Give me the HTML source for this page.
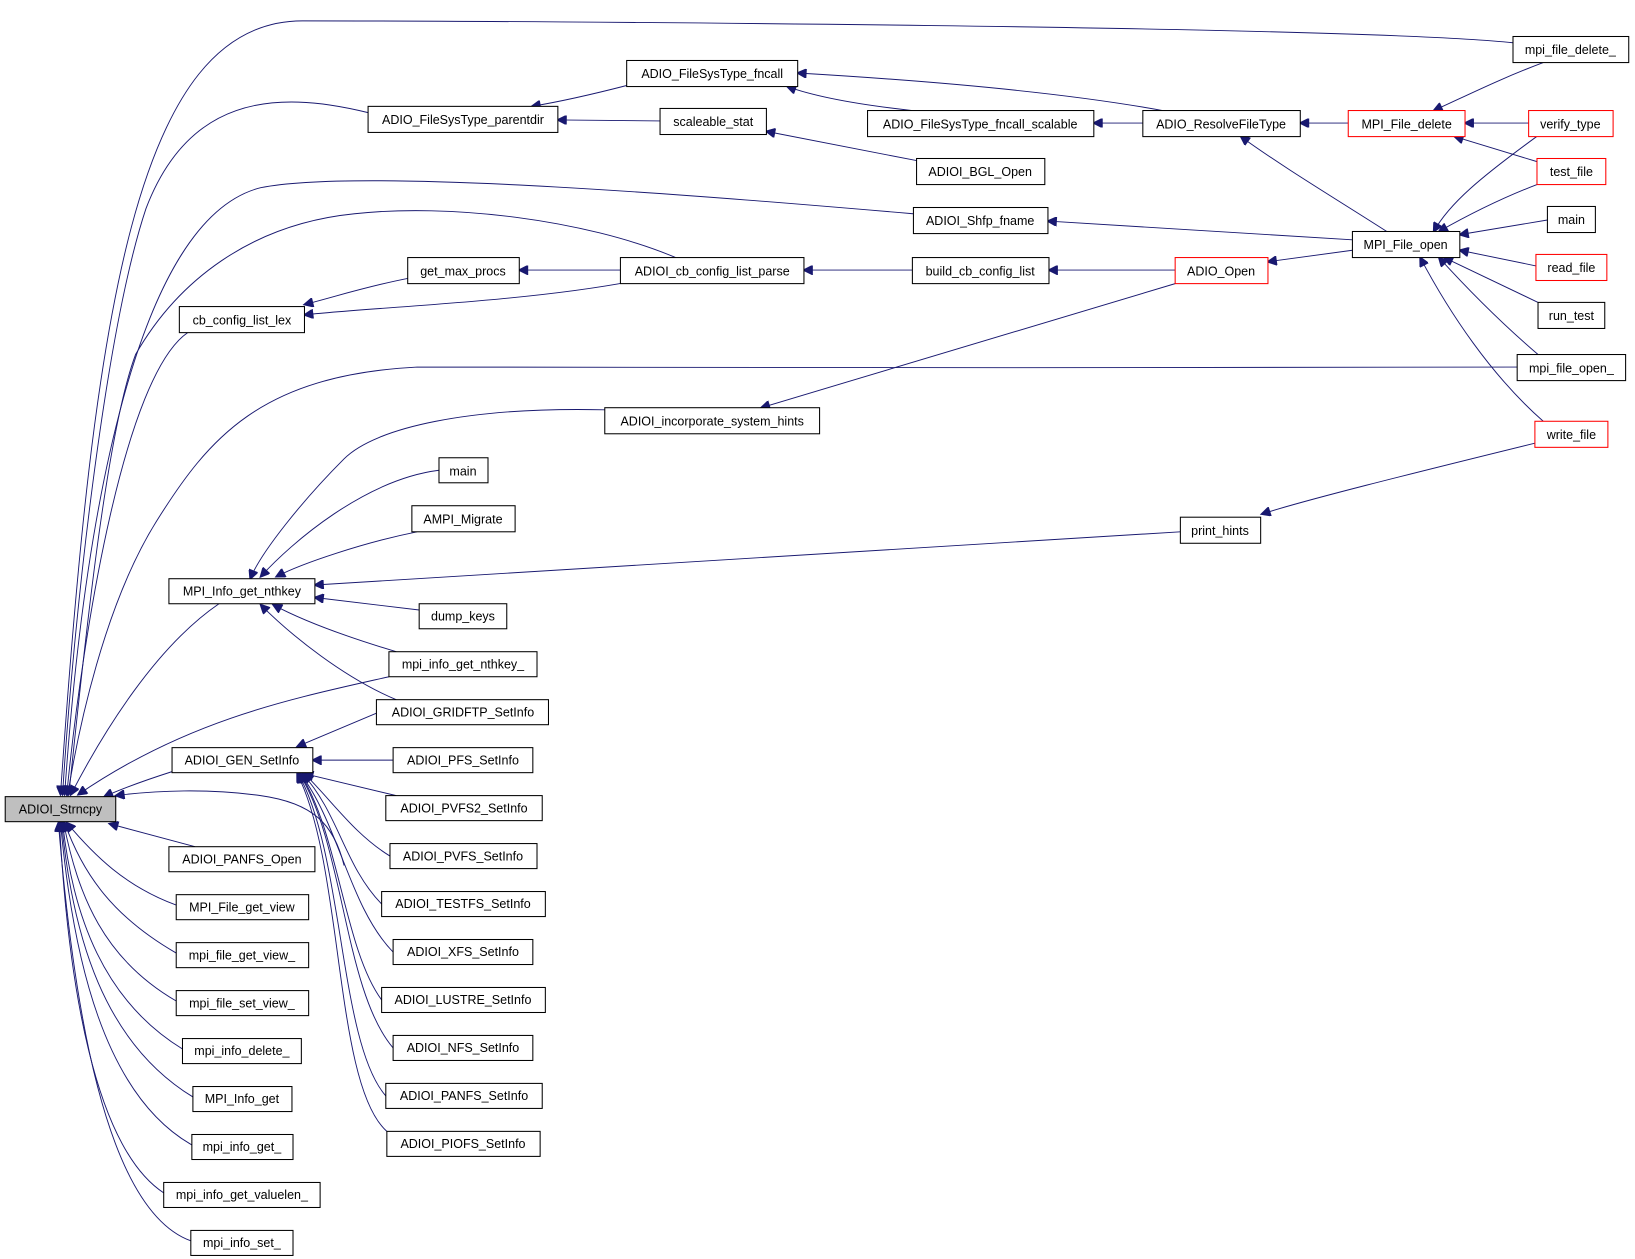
<!DOCTYPE html>
<html><head><meta charset="utf-8"><style>
html,body{margin:0;padding:0;background:#fff}
svg{display:block}
text{font-family:"Liberation Sans",Arial,sans-serif;font-size:12px;fill:#000}
.e{fill:none;stroke:#191970;stroke-width:0.9}
</style></head><body>
<svg width="1635" height="1259" viewBox="0 0 1568 1207.4" xmlns="http://www.w3.org/2000/svg">
<defs><marker id="a" viewBox="0 0 10 10" refX="9" refY="5" markerWidth="13" markerHeight="9" markerUnits="userSpaceOnUse" orient="auto"><path d="M0,0 L10,5 L0,10 z" fill="#191970" stroke="#191970"/></marker></defs>
<g class="e" marker-end="url(#a)">
<path d="M1451,41 C1300,25 500,20 290,20 C130,20 90,300 58,762"/>
<path d="M353,108 C260,85 180,95 140,200 C100,320 70,600 60,762"/>
<path d="M876,205 C700,190 350,160 250,180 C130,210 80,500 62,762"/>
<path d="M648,247 C560,210 430,195 340,205 C240,215 170,270 130,340 C100,420 78,650 66,762"/>
<path d="M605,270 C500,290 350,295 292,302"/>
<path d="M391,267 C350,275 320,285 292,292"/>
<path d="M180,319 C120,360 80,600 64,762"/>
<path d="M1455,352 C1200,355 500,350 400,352 C250,360 200,420 150,500 C100,580 75,700 65,762"/>
<path d="M210,579 C150,620 100,700 68,762"/>
<path d="M373,649 C280,670 180,690 75,762"/>
<path d="M165,740 C140,748 120,755 100,764"/>
<path d="M330,830 C320,790 300,770 250,763 C200,756 150,758 111,763"/>
<path d="M187,812 L105,790"/>
<path d="M169,868 C120,850 90,820 64,789"/>
<path d="M169,914 C110,880 80,840 62,789"/>
<path d="M169,960 C100,920 75,860 61,789"/>
<path d="M175,1006 C100,960 70,880 60,789"/>
<path d="M185,1052 C100,1000 70,900 59,789"/>
<path d="M184,1098 C100,1050 70,920 58,789"/>
<path d="M157,1144 C90,1100 65,940 57,789"/>
<path d="M183,1190 C100,1160 70,960 56,789"/>
<path d="M580,393 C450,390 360,410 330,440 C290,480 250,530 240,555"/>
<path d="M421,451 C350,460 280,520 250,553"/>
<path d="M400,510 C350,520 290,540 265,553"/>
<path d="M1132,510 L302,561"/>
<path d="M402,585 L302,573"/>
<path d="M380,625 C330,610 290,595 262,580"/>
<path d="M380,671 C330,650 280,610 250,580"/>
<path d="M361,684 L285,716"/>
<path d="M377,729 L300,729"/>
<path d="M380,763 L292,742"/>
<path d="M374,821 C340,800 320,770 292,742"/>
<path d="M366,867 C330,830 325,780 290,742"/>
<path d="M377,913 C335,870 325,790 288,742"/>
<path d="M366,959 C330,910 325,800 288,742"/>
<path d="M377,1005 C330,950 330,810 287,742"/>
<path d="M370,1051 C325,1000 330,820 286,742"/>
<path d="M371,1085 C320,1040 330,830 285,742"/>
<path d="M601,82 C570,90 540,97 510,102"/>
<path d="M633,116 L535,115"/>
<path d="M875,106 C820,100 780,92 755,83"/>
<path d="M1115,106 C1000,85 850,75 765,70"/>
<path d="M879,154 L735,126"/>
<path d="M1096,118 L1049,118"/>
<path d="M1293,118 L1247,118"/>
<path d="M1466,118 L1405,118"/>
<path d="M1480,60 C1440,75 1410,90 1375,106"/>
<path d="M1474,155 L1395,131"/>
<path d="M1330,222 C1280,190 1230,160 1190,131"/>
<path d="M1297,230 L1005,212"/>
<path d="M1297,240 L1216,251"/>
<path d="M1475,130 C1420,170 1390,195 1375,222"/>
<path d="M1474,177 C1440,190 1410,205 1380,222"/>
<path d="M1484,211 L1400,225"/>
<path d="M1473,255 L1400,240"/>
<path d="M1475,290 L1385,247"/>
<path d="M1475,340 C1440,310 1410,280 1380,247"/>
<path d="M1480,404 C1430,360 1390,300 1362,247"/>
<path d="M875,259 L771,259"/>
<path d="M1127,259 L1006,259"/>
<path d="M1127,272 L730,391"/>
<path d="M595,259 L498,259"/>
<path d="M1472,425 C1350,455 1250,480 1210,493"/>
</g>
<g stroke="#000" stroke-width="1" fill="#fff">
<rect x="1451" y="35" width="111" height="25"/>
<rect x="601" y="58" width="164" height="25"/>
<rect x="353" y="102" width="182" height="25"/>
<rect x="633" y="104" width="102" height="25"/>
<rect x="832" y="106" width="217" height="25"/>
<rect x="1096" y="106" width="151" height="25"/>
<rect x="1293" y="106" width="112" height="25" stroke="#f00"/>
<rect x="1466" y="106" width="81" height="25" stroke="#f00"/>
<rect x="879" y="152" width="123" height="25"/>
<rect x="1474" y="152" width="66" height="25" stroke="#f00"/>
<rect x="876" y="199" width="129" height="25"/>
<rect x="1484" y="198" width="46" height="25"/>
<rect x="1297" y="222" width="103" height="25"/>
<rect x="391" y="247" width="107" height="25"/>
<rect x="595" y="247" width="176" height="25"/>
<rect x="875" y="247" width="131" height="25"/>
<rect x="1127" y="247" width="89" height="25" stroke="#f00"/>
<rect x="1473" y="244" width="68" height="25" stroke="#f00"/>
<rect x="172" y="294" width="120" height="25"/>
<rect x="1475" y="290" width="64" height="25"/>
<rect x="1455" y="340" width="104" height="25"/>
<rect x="580" y="391" width="206" height="25"/>
<rect x="1472" y="404" width="70" height="25" stroke="#f00"/>
<rect x="421" y="439" width="47" height="24"/>
<rect x="395" y="485" width="99" height="25"/>
<rect x="1132" y="496" width="77" height="25"/>
<rect x="162" y="555" width="140" height="24"/>
<rect x="402" y="579" width="84" height="24"/>
<rect x="373" y="625" width="142" height="24"/>
<rect x="361" y="671" width="165" height="24"/>
<rect x="165" y="717" width="135" height="24"/>
<rect x="377" y="717" width="134" height="24"/>
<rect x="5" y="764" width="106" height="24" fill="#bfbfbf"/>
<rect x="370" y="763" width="150" height="24"/>
<rect x="162" y="812" width="140" height="24"/>
<rect x="374" y="809" width="141" height="24"/>
<rect x="169" y="858" width="127" height="24"/>
<rect x="366" y="855" width="157" height="24"/>
<rect x="169" y="904" width="127" height="24"/>
<rect x="377" y="901" width="134" height="24"/>
<rect x="169" y="950" width="127" height="24"/>
<rect x="366" y="947" width="157" height="24"/>
<rect x="175" y="996" width="114" height="24"/>
<rect x="377" y="993" width="134" height="24"/>
<rect x="185" y="1042" width="95" height="24"/>
<rect x="370" y="1039" width="150" height="24"/>
<rect x="184" y="1088" width="97" height="24"/>
<rect x="371" y="1085" width="147" height="24"/>
<rect x="157" y="1134" width="150" height="24"/>
<rect x="183" y="1180" width="98" height="24"/>
</g>
<g text-anchor="middle">
<text x="1506" y="52">mpi_file_delete_</text>
<text x="683" y="75">ADIO_FileSysType_fncall</text>
<text x="444" y="119">ADIO_FileSysType_parentdir</text>
<text x="684" y="121">scaleable_stat</text>
<text x="940" y="123">ADIO_FileSysType_fncall_scalable</text>
<text x="1171" y="123">ADIO_ResolveFileType</text>
<text x="1349" y="123">MPI_File_delete</text>
<text x="1506" y="123">verify_type</text>
<text x="940" y="169">ADIOI_BGL_Open</text>
<text x="1507" y="169">test_file</text>
<text x="940" y="216">ADIOI_Shfp_fname</text>
<text x="1507" y="215">main</text>
<text x="1348" y="239">MPI_File_open</text>
<text x="444" y="264">get_max_procs</text>
<text x="683" y="264">ADIOI_cb_config_list_parse</text>
<text x="940" y="264">build_cb_config_list</text>
<text x="1171" y="264">ADIO_Open</text>
<text x="1507" y="261">read_file</text>
<text x="232" y="311">cb_config_list_lex</text>
<text x="1507" y="307">run_test</text>
<text x="1507" y="357">mpi_file_open_</text>
<text x="683" y="408">ADIOI_incorporate_system_hints</text>
<text x="1507" y="421">write_file</text>
<text x="444" y="456">main</text>
<text x="444" y="502">AMPI_Migrate</text>
<text x="1170" y="513">print_hints</text>
<text x="232" y="571">MPI_Info_get_nthkey</text>
<text x="444" y="595">dump_keys</text>
<text x="444" y="641">mpi_info_get_nthkey_</text>
<text x="444" y="687">ADIOI_GRIDFTP_SetInfo</text>
<text x="232" y="733">ADIOI_GEN_SetInfo</text>
<text x="444" y="733">ADIOI_PFS_SetInfo</text>
<text x="58" y="780">ADIOI_Strncpy</text>
<text x="445" y="779">ADIOI_PVFS2_SetInfo</text>
<text x="232" y="828">ADIOI_PANFS_Open</text>
<text x="444" y="825">ADIOI_PVFS_SetInfo</text>
<text x="232" y="874">MPI_File_get_view</text>
<text x="444" y="871">ADIOI_TESTFS_SetInfo</text>
<text x="232" y="920">mpi_file_get_view_</text>
<text x="444" y="917">ADIOI_XFS_SetInfo</text>
<text x="232" y="966">mpi_file_set_view_</text>
<text x="444" y="963">ADIOI_LUSTRE_SetInfo</text>
<text x="232" y="1012">mpi_info_delete_</text>
<text x="444" y="1009">ADIOI_NFS_SetInfo</text>
<text x="232" y="1058">MPI_Info_get</text>
<text x="445" y="1055">ADIOI_PANFS_SetInfo</text>
<text x="232" y="1104">mpi_info_get_</text>
<text x="444" y="1101">ADIOI_PIOFS_SetInfo</text>
<text x="232" y="1150">mpi_info_get_valuelen_</text>
<text x="232" y="1196">mpi_info_set_</text>
</g>
</svg>
</body></html>
